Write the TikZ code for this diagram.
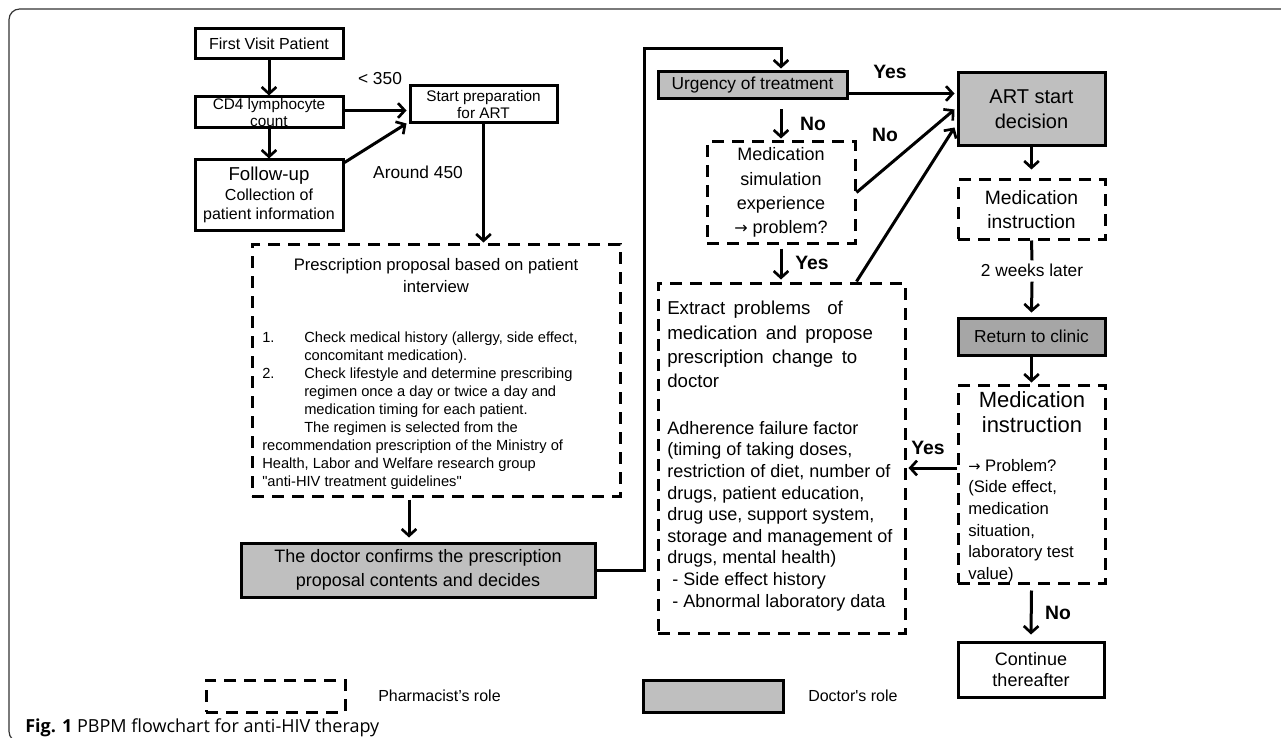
\documentclass[tikz,border=0pt]{standalone}
\usepackage{fontspec}
\setmainfont{Liberation Sans}
\newfontfamily\capfont{Open Sans}
\newfontfamily\dejavu{DejaVu Sans}
\usetikzlibrary{arrows.meta,calc}
\definecolor{docgray}{HTML}{BFBFBF}
\definecolor{retgray}{HTML}{A6A6A6}
\newcommand\wsp{\hskip 0.45em\relax}
\begin{document}
\begin{tikzpicture}[x=0.75pt,y=-0.75pt,
  fs/.style 2 args={font=\fontsize{#1}{#2}\selectfont},
  sz/.style 2 args={minimum width=#1*0.75pt, minimum height=#2*0.75pt},
  box/.style={draw, line width=2.25pt, inner sep=0pt, align=center},
  dbox/.style={box, dash pattern=on 9pt off 6pt},
  gbox/.style={box, fill=docgray},
  arr/.style={line width=2.25pt, -{Straight Barb[length=5pt,width=11pt,line width=2pt]}},
  lab/.style={font=\bfseries\fontsize{14.5}{16}\selectfont, inner sep=0pt},
  txt/.style={inner sep=0pt, align=left}]
\useasboundingbox (0,0) rectangle (1281,738);
% frame
\draw[line width=0.9pt, black!80, rounded corners=8pt] (1290,9) -- (9,9) -- (9,742) -- (40,742);

% left column
\node[box, sz={148}{30}, fs={12}{13}] (fv) at (269,44) {First Visit Patient};
\node[box, sz={148}{31}, fs={11.5}{12.5}] (cd4) at (269,112.5) {CD4 lymphocyte\\count};
\node[box, sz={148}{70}, fs={12}{14.5}] (fu) at (269,195) {{\fontsize{14}{16}\selectfont Follow-up}\\Collection of\\patient information};
\node[box, sz={147}{37}, fs={11.5}{13}] (sp) at (483.5,104.5) {Start preparation\\for ART};
\node[fs={13}{15}, inner sep=0pt] (l350) at (380,79) {< 350};
\node[fs={13}{15}, inner sep=0pt] (l450) at (418,172) {Around 450};

\draw[arr] (fv.south) -- (cd4.north);
\draw[arr] (cd4.south) -- (fu.north);
\draw[arr] ($(cd4.east)+(0,-2)$) -- ($(cd4.east -| sp.west)+(-2,-2)$);
\draw[arr] ($(fu.north east)+(0,4)$) -- ($(sp.south west)+(-2,-1)$);

% prescription proposal
\node[dbox, sz={368}{252}] (pres) at (436,370) {};
\node[txt, align=center, fs={12.5}{16.5}] (prest) at (436,276) {Prescription proposal based on patient\\interview};
\node[txt, anchor=north west, fs={11}{13.5}] (presl) at (262,332) {%
\makebox[31.5pt][l]{1.}Check medical history (allergy, side effect,\\
\hspace*{31.5pt}concomitant medication).\\
\makebox[31.5pt][l]{2.}Check lifestyle and determine prescribing\\
\hspace*{31.5pt}regimen once a day or twice a day and\\
\hspace*{31.5pt}medication timing for each patient.\\
\hspace*{31.5pt}The regimen is selected from the\\
recommendation prescription of the Ministry of\\
Health, Labor and Welfare research group\\
\textquotedbl anti-HIV treatment guidelines\textquotedbl};
\draw[arr] (sp.south) -- (sp.south |- pres.north);

\node[gbox, sz={354}{54}, fs={13.5}{18.5}] (doc) at (418,570) {The doctor confirms the prescription\\proposal contents and decides};
\draw[arr] ($(pres.south)+(-27,2)$) -- ($(pres.south |- doc.north)+(-27,-4)$);

% middle column
\node[gbox, sz={189}{27}, fs={13}{14}] (urg) at (752.5,85.5) {Urgency of treatment};
\node[dbox, sz={148}{101}, fs={13.5}{18.2}] (ms) at (781,192.5) {Medication\\simulation\\experience\\{\dejavu\fontsize{12}{12}\selectfont →} problem?};
\node[dbox, sz={247}{350}] (ext) at (781.5,458) {};
\node[txt, anchor=north west, fs={14}{18.2}] (ext1) at (667,301) {Extract\wsp problems\wsp\wsp of\\medication\wsp and\wsp propose\\prescription\wsp change\wsp to\\doctor};
\node[txt, anchor=north west, fs={13.5}{16.2}] (ext2) at (667,421) {Adherence failure factor\\(timing of taking doses,\\restriction of diet, number of\\drugs, patient education,\\drug use, support system,\\storage and management of\\drugs, mental health)\\\ - Side effect history\\\ - Abnormal laboratory data};

\draw[arr] (doc.east) -- ++(48,0) |- ($(urg.north -| ms.north)+(0,-22)$) -- ($(urg.north -| ms.north)+(0,-2)$);
\draw[arr] ($(urg.south -| ms.north)+(0,9)$) -- ($(ms.north)+(0,-2)$);
\node[lab] at (813,124) {No};
\draw[arr] ($(ms.south)+(0,4)$) -- ($(ext.north -| ms.south)+(0,-2)$);
\node[lab] at (812,263) {Yes};

% right column
\node[gbox, sz={147}{73}, fs={15}{18.5}] (art) at (1031.5,109.5) {ART start\\decision};
\node[dbox, sz={147}{59}, fs={14.5}{18}] (mi1) at (1031.5,209.5) {Medication\\instruction};
\node[fs={13}{14}, inner sep=0pt] (wk) at (1032,270) {2 weeks later};
\node[box, fill=retgray, sz={147}{37}, fs={13}{14}] (ret) at (1031.5,336.5) {Return to clinic};
\node[dbox, sz={147}{198}] (mi2) at (1031.5,484) {};
\node[txt, align=center, fs={16.5}{19}] (mi2t) at (1032,412) {Medication\\instruction};
\node[txt, anchor=north west, fs={12.5}{16.2}] (mi2l) at (968,459) {{\dejavu\fontsize{11}{12}\selectfont →} Problem?\\(Side effect,\\medication\\situation,\\laboratory test\\value)};
\node[box, sz={146}{55}, fs={13.5}{16}] (cont) at (1031,669.5) {Continue\\thereafter};

\draw[arr] ($(urg.east)+(0,8)$) -- ($(urg.east -| art.west)+(-2,8)$);
\node[lab] at (890,72) {Yes};
\draw[arr] (ms.east) -- ($(art.west)+(-2,0)$);
\node[lab] at (885,135) {No};
\draw[arr] (ms.east |- ext.north) -- ($(art.west)+(-2,18)$);
\draw[arr] (art.south) -- ($(mi1.north)+(0,-9)$);
\draw[line width=2.25pt] (mi1.south) -- ($(wk.north)+(0,-3)$);
\draw[arr] ($(wk.south)+(0,5)$) -- ($(ret.north)+(0,-4)$);
\draw[arr] (ret.south) -- ($(mi2.north)+(0,-1)$);
\draw[arr] ($(mi2.west)+(0,-16)$) -- ($(mi2.west -| ext.east)+(2,-16)$);
\node[lab] at (928,448) {Yes};
\draw[arr] ($(mi2.south)+(0,6)$) -- ($(cont.north)+(0,-6)$);
\node[lab] at (1058,613) {No};

% legend
\node[dbox, sz={139}{32}] (legp) at (275.5,696) {};
\node[fs={12}{14}, anchor=west, inner sep=0pt] (legpt) at (378,696) {Pharmacist’s role};
\node[gbox, sz={140}{32}] (legd) at (713,696) {};
\node[fs={12}{14}, anchor=west, inner sep=0pt] (legdt) at (808,696) {Doctor\textquotesingle s role};

% caption
\node[anchor=base west, inner sep=0pt, font=\capfont\fontsize{13.5}{15}\selectfont] (cap) at (25,732) {\textbf{Fig. 1} PBPM flowchart for anti-HIV therapy};
\end{tikzpicture}
\end{document}
